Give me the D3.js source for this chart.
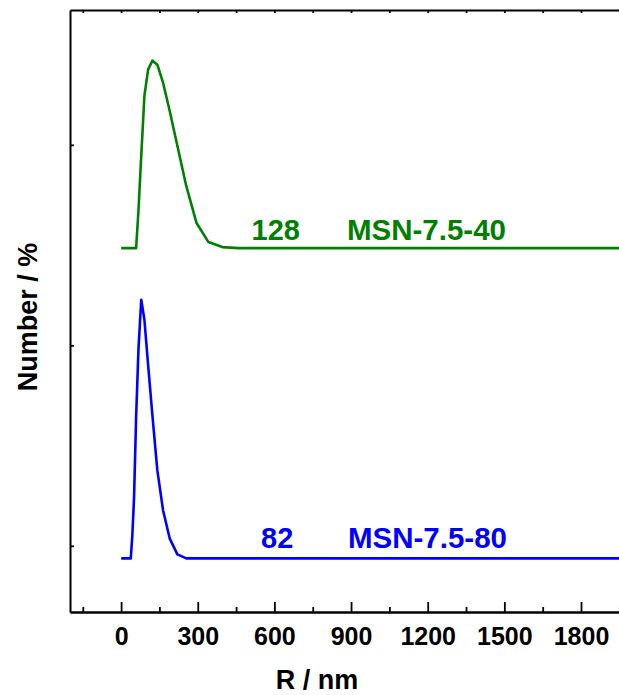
<!DOCTYPE html>
<html>
<head>
<meta charset="utf-8">
<script src="https://cdn.jsdelivr.net/npm/d3@7"></script>
<style>
  body { margin: 0; background: #fff; }
  text { font-family: "Liberation Sans", Arial, sans-serif; font-weight: bold; }
</style>
</head>
<body>
<div id="chartArea"></div>
<script>
// size bins (nm) and number distributions (%)
const sizeR = [0.4, 32.67, 37.84, 43.82, 50.75, 58.77, 68.06, 78.82, 91.28, 105.7, 122.4, 141.8,
  164.2, 190.1, 220.2, 255.0, 295.3, 342.0, 396.1, 458.7, 531.2, 615.1, 712.4, 825.0, 955.4,
  1106, 1281, 1484, 1718, 1990, 2305];
const msn40 = [0, 0, 0, 0, 0, 0, 3.8, 9.2, 15.2, 17.8, 18.7, 18.3,
  16.5, 13.7, 10.2, 6.2, 2.5, 0.6, 0.1, 0, 0, 0, 0, 0, 0,
  0, 0, 0, 0, 0, 0];
const msn80 = [0, 0, 0, 2.2, 6.1, 14.1, 20.9, 25.8, 23.8, 19.3, 14.3, 8.8,
  4.8, 2.0, 0.4, 0, 0, 0, 0, 0, 0, 0, 0, 0, 0,
  0, 0, 0, 0, 0, 0];
const offsets = { msn40: 29.7, msn80: -1.25 };
const series = [
  { key: "msn40", values: msn40, color: "#008000", label: "MSN-7.5-40", peak: "128" },
  { key: "msn80", values: msn80, color: "#0000ff", label: "MSN-7.5-80", peak: "82" }
];
const xMajor = [0, 300, 600, 900, 1200, 1500, 1800];
const xMinor = [-150, 150, 450, 750, 1050, 1350, 1650, 1950];
const yTicks = [0, 20, 40];

(function() {
  const W = 619, H = 695;
  const left = 70, top = 10, bottom = 612;

  const svg = d3.select("#chartArea").append("svg")
    .attr("width", W).attr("height", H);

  const xScale = d3.scaleLinear().domain([-200, 2000]).range([left, left + 2200 * 0.2555]);
  const yScale = d3.scaleLinear().domain([-6.6, 53.45]).range([bottom, top]);

  svg.append("clipPath").attr("id", "plot")
    .append("rect").attr("x", left).attr("y", top)
    .attr("width", W - left).attr("height", bottom - top);

  const line = d3.line()
    .x((d, i) => xScale(sizeR[i]))
    .y(d => d);

  series.forEach(s => {
    const pts = s.values.map(v => yScale(v + offsets[s.key]));
    svg.append("path")
      .attr("clip-path", "url(#plot)")
      .attr("d", line(pts))
      .attr("fill", "none")
      .attr("stroke", s.color)
      .attr("stroke-width", 2.6)
      .attr("stroke-linejoin", "round");
  });

  // annotations
  const ann = [
    { s: series[0], y: 240, xPeak: 251.5, xLab: 347 },
    { s: series[1], y: 548, xPeak: 261, xLab: 348 }
  ];
  ann.forEach(a => {
    svg.append("text").attr("x", a.xPeak).attr("y", a.y)
      .attr("fill", a.s.color).attr("font-size", 29).text(a.s.peak);
    svg.append("text").attr("x", a.xLab).attr("y", a.y)
      .attr("fill", a.s.color).attr("font-size", 29)
      .attr("textLength", 159).attr("lengthAdjust", "spacingAndGlyphs")
      .text(a.s.label);
  });

  // bottom axis
  svg.append("g").attr("transform", "translate(0," + bottom + ")")
    .call(d3.axisBottom(xScale).tickValues(xMajor).tickSizeInner(-10).tickSizeOuter(0).tickPadding(15)
      .tickFormat(d3.format("d")));
  svg.append("g").attr("transform", "translate(0," + bottom + ")")
    .call(d3.axisBottom(xScale).tickValues(xMinor).tickSizeInner(-5).tickSizeOuter(0).tickFormat(""));
  // top axis
  svg.append("g").attr("transform", "translate(0," + top + ")")
    .call(d3.axisTop(xScale).tickValues(xMinor.concat(xMajor)).tickSizeInner(-3).tickSizeOuter(0).tickFormat(""));
  // left axis
  svg.append("g").attr("transform", "translate(" + left + ",0)")
    .call(d3.axisLeft(yScale).tickValues(yTicks).tickSizeInner(-4).tickSizeOuter(0).tickFormat(""));

  svg.selectAll(".domain").attr("stroke", "#000").attr("stroke-width", 2);
  svg.selectAll(".tick line").attr("stroke", "#000").attr("stroke-width", 1.8);
  svg.selectAll(".tick text").attr("font-size", 25).attr("fill", "#000")
    .attr("font-family", "'Liberation Sans', Arial, sans-serif").attr("font-weight", "bold");

  // axis titles
  svg.append("text").attr("x", 317).attr("y", 689).attr("text-anchor", "middle")
    .attr("font-size", 27).text("R / nm");
  svg.append("text").attr("transform", "translate(37,317) rotate(-90)")
    .attr("text-anchor", "middle").attr("font-size", 27).text("Number / %");
})();
</script>
</body>
</html>
